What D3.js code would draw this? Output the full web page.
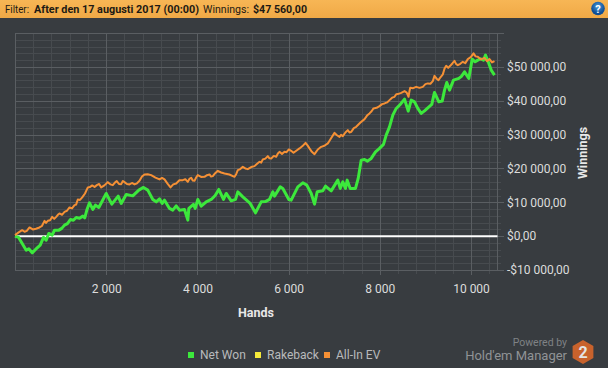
<!DOCTYPE html>
<html>
<head>
<meta charset="utf-8">
<script src="https://cdn.jsdelivr.net/npm/d3@7"></script>
<style>
  html, body { margin: 0; padding: 0; background: #383c40; overflow: hidden; }
  text { font-family: Roboto, sans-serif; }
</style>
</head>
<body>
<div id="chart"></div>
<script>
var netHands = [0,80,158,246,303,377,450,553,625,684,741,816,866,961,1025,1086,1150,1217,1280,1342,1415,1487,1530,1575,1634,1706,1765,1838,2000,2123,2263,2329,2439,2583,2715,2818,2912,3022,3097,3169,3228,3279,3388,3460,3535,3607,3717,3790,3812,3914,3952,4009,4083,4193,4303,4390,4469,4572,4632,4741,4836,4886,4996,5158,5274,5399,5490,5581,5654,5691,5816,5873,6005,6057,6202,6312,6399,6496,6568,6627,6750,6809,6934,7079,7132,7189,7248,7285,7351,7467,7526,7592,7665,7730,7811,7906,7993,8081,8140,8213,8285,8360,8447,8542,8623,8689,8761,8833,8908,8980,9053,9140,9199,9294,9368,9419,9469,9528,9616,9733,9790,9858,9952,10026,10090,10149,10210,10274,10318,10391,10443,10515];
var netWon = [0,-380,-2160,-4140,-3750,-4930,-3930,-2660,-380,-1180,800,300,1770,1770,2300,3250,3700,4930,4700,5520,5300,5910,5400,7680,9840,7890,9160,8480,12610,9450,11820,9660,12320,11900,13590,14390,13590,10840,10130,11020,9660,10630,8180,7680,8950,7680,7890,4730,8180,9360,8180,10840,8860,10130,10840,12000,13800,10840,12610,10430,10840,13090,11610,9660,6880,10130,10200,10840,13090,11820,14560,14090,10840,10630,14560,15750,15070,12610,9450,13090,13380,14770,13380,16540,14090,16040,14090,16540,14090,14090,17040,22450,22660,22150,22950,24900,25910,27090,29840,32290,35740,37720,38900,40470,36930,40170,39670,37720,36250,37000,37900,38900,42450,39670,39880,43130,45400,43130,46080,46580,47200,48530,46580,52290,51500,51990,52400,51990,53470,51020,49050,47560];

var evHands = [0,80,158,210,259,318,390,460,537,590,647,680,719,770,816,860,904,940,976,1030,1086,1140,1195,1250,1305,1340,1377,1425,1474,1535,1597,1640,1693,1745,1794,1845,1890,1960,2035,2090,2145,2190,2232,2280,2329,2365,2401,2455,2511,2565,2621,2675,2730,2785,2840,2910,2987,3080,3169,3225,3279,3345,3410,3470,3535,3605,3680,3735,3790,3830,3864,3900,3936,3975,4009,4080,4156,4210,4265,4300,4338,4390,4447,4520,4594,4700,4814,4850,4886,4940,4996,5050,5105,5180,5252,5310,5362,5400,5434,5490,5544,5580,5619,5675,5728,5765,5800,5855,5910,5955,6005,6055,6108,6175,6239,6305,6371,6415,6458,6510,6568,6640,6715,6785,6860,6935,7007,7060,7117,7150,7189,7245,7298,7335,7373,7430,7482,7570,7665,7720,7774,7820,7862,7930,7993,8050,8103,8160,8213,8270,8323,8360,8395,8470,8542,8590,8630,8650,8667,8730,8798,8870,8943,9000,9053,9110,9162,9199,9245,9287,9335,9382,9420,9456,9500,9544,9590,9638,9675,9711,9765,9820,9875,9930,9995,10055,10100,10149,10220,10296,10350,10406,10460,10515];
var allInEv = [300,1100,1770,1300,1570,2570,1980,2200,2570,3000,4520,3900,4520,4700,5700,5100,5700,6300,6710,6300,7180,7500,8480,8200,9160,9300,10840,10700,11430,12600,14390,14500,14980,14500,15070,15400,14390,15000,15950,15300,15070,15800,16250,15400,15360,16300,15950,15400,15270,15700,15270,15600,16340,17600,18230,18300,18020,17300,16750,17200,16750,15500,14390,15300,15570,16500,16540,16800,16040,17000,17220,16400,16340,17400,18020,17500,17520,18000,18230,17600,17720,18600,19290,18800,18520,18200,17520,18300,19500,19800,20470,20000,19790,20400,20680,21400,21950,21700,22660,22900,23630,23000,22950,23700,23430,24400,24900,24300,24900,24800,25610,25200,24610,25300,25910,26600,27560,26800,25910,24900,24220,25600,26380,26700,27380,29000,30510,29800,29330,29900,29540,30600,31310,30600,30810,31900,32290,33500,34560,35600,36250,36900,37720,37900,38400,39000,39200,39500,40170,40900,41150,41900,41950,42300,42830,42400,41150,42800,43810,43700,44100,43800,44100,44900,45110,45000,45790,47350,46500,46080,47000,47770,49500,50310,49700,50310,51000,51780,50800,50510,50900,51490,51100,52290,52900,53970,53100,52970,52200,52670,51700,52290,51300,51700];

var xTicks = [2000,4000,6000,8000,10000];
var xMinorTicks = [400,800,1200,1600,2400,2800,3200,3600,4400,4800,5200,5600,6400,6800,7200,7600,8400,8800,9200,9600,10400];
var yTicks = [-10000,0,10000,20000,30000,40000,50000,60000];
var yLabelled = [-10000,0,10000,20000,30000,40000,50000];
var yMinorTicks = [-8000,-6000,-4000,-2000,2000,4000,6000,8000,12000,14000,16000,18000,22000,24000,26000,28000,32000,34000,36000,38000,42000,44000,46000,48000,52000,54000,56000,58000];
var legendNames = ["Net Won","Rakeback","All-In EV"];
var legendColors = ["#3ce83c","#f6ea3a","#f59035"];

var margin = {top: 33, right: 111, bottom: 98, left: 15},
    width = 608 - margin.left - margin.right,
    height = 368 - margin.top - margin.bottom;

var svg = d3.select("#chart").append("svg")
    .attr("width", 608)
    .attr("height", 368)
    .style("display", "block");

// header bar
var defs = svg.append("defs");
var grad = defs.append("linearGradient").attr("id", "bar").attr("x1", 0).attr("x2", 0).attr("y1", 0).attr("y2", 1);
grad.append("stop").attr("offset", "0%").attr("stop-color", "#f7b655");
grad.append("stop").attr("offset", "100%").attr("stop-color", "#f0a946");
svg.append("rect").attr("width", 608).attr("height", 18).attr("fill", "url(#bar)");

function headerText(x, str, weight, len) {
  svg.append("text").attr("x", x).attr("y", 13)
    .attr("font-size", 11).attr("font-weight", weight).attr("fill", "#1d1a14")
    .attr("textLength", len).attr("lengthAdjust", "spacingAndGlyphs").text(str);
}
headerText(5, "Filter:", 400, 24);
headerText(34, "After den 17 augusti 2017 (00:00)", 700, 165);
headerText(203, "Winnings:", 400, 46);
headerText(253, "$47 560,00", 700, 54);

// help button
var icon = defs.append("radialGradient").attr("id", "help").attr("cy", "35%");
icon.append("stop").attr("offset", "0%").attr("stop-color", "#4d9bd8");
icon.append("stop").attr("offset", "100%").attr("stop-color", "#0f4f96");
svg.append("circle").attr("cx", 598).attr("cy", 8.5).attr("r", 6.8).attr("fill", "url(#help)");
svg.append("text").attr("x", 598).attr("y", 12.5).attr("text-anchor", "middle")
  .attr("font-size", 11).attr("font-weight", 700).attr("fill", "#fff").text("?");

var g = svg.append("g").attr("transform", "translate(" + margin.left + "," + margin.top + ")");

var x = d3.scaleLinear().domain([0, 10570]).range([0, width]);
var y = d3.scaleLinear().domain([-10000, 60000]).range([height, 0]);
// rounded copies so the grid stays crisp
var xGrid = x.copy().rangeRound([0, width]);
var yGrid = y.copy().rangeRound([height, 0]);

// grid, drawn as long axis ticks. minor first so the major ones sit on top
function styleGrid(sel, colour) {
  sel.select(".domain").remove();
  sel.selectAll("line").attr("stroke", colour).attr("stroke-width", 1);
  sel.selectAll("text").remove();
}
g.append("g").attr("transform", "translate(0," + (height + 4) + ")")
  .call(d3.axisBottom(xGrid).tickValues(xMinorTicks).tickSize(-(height + 4)).tickSizeOuter(0))
  .call(styleGrid, "#474b4f");
g.append("g").attr("transform", "translate(" + (width + 4) + ",0)")
  .call(d3.axisRight(yGrid).tickValues(yMinorTicks).tickSize(-(width + 4)).tickSizeOuter(0))
  .call(styleGrid, "#474b4f");
g.append("g").attr("transform", "translate(0," + (height + 5) + ")")
  .call(d3.axisBottom(xGrid).tickValues(xTicks).tickSize(-(height + 5)).tickSizeOuter(0))
  .call(styleGrid, "#5a5e62");
g.append("g").attr("transform", "translate(" + (width + 7) + ",0)")
  .call(d3.axisRight(yGrid).tickValues(yTicks).tickSize(-(width + 7)).tickSizeOuter(0))
  .call(styleGrid, "#5a5e62");
g.append("rect").attr("x", 0.5).attr("y", 0.5).attr("width", width).attr("height", height)
  .attr("fill", "none").attr("stroke", "#5a5e62");

// tick labels
var xAxis = g.append("g").attr("transform", "translate(0," + height + ")")
  .call(d3.axisBottom(x).tickValues(xTicks).tickSize(0).tickPadding(14)
    .tickFormat(function(d) { return d3.format(",")(d).replace(",", " "); }));
xAxis.select(".domain").remove();
var yAxis = g.append("g").attr("transform", "translate(" + width + ",0)")
  .call(d3.axisRight(y).tickValues(yLabelled).tickSize(0).tickPadding(10)
    .tickFormat(function(d) {
      var s = d3.format(",")(Math.abs(d)).replace(",", " ");
      return (d < 0 ? "-" : "") + "$" + s + ",00";
    }));
yAxis.select(".domain").remove();
g.selectAll("g.tick text")
  .attr("font-family", "Roboto, sans-serif")
  .attr("font-size", 12)
  .attr("fill", "#dcdcdc");

// axis titles
svg.append("text").attr("x", 256).attr("y", 317).attr("text-anchor", "middle")
  .attr("font-size", 12.5).attr("font-weight", 700).attr("fill", "#e8e8e8").text("Hands");
svg.append("text").attr("transform", "translate(587,153) rotate(-90)").attr("text-anchor", "middle")
  .attr("font-size", 12.5).attr("font-weight", 700).attr("fill", "#e8e8e8").text("Winnings");

// zero line
g.append("line").attr("x1", x(0)).attr("x2", width + 0.5).attr("y1", y(0)).attr("y2", y(0))
  .attr("stroke", "#fff").attr("stroke-width", 2);

// series
var line = d3.line()
  .x(function(d) { return x(d[0]); })
  .y(function(d) { return y(d[1]); });

g.append("path")
  .datum(d3.zip(netHands, netWon))
  .attr("d", line)
  .attr("fill", "none")
  .attr("stroke", legendColors[0])
  .attr("stroke-width", 3)
  .attr("stroke-linejoin", "round");

g.append("path")
  .datum(d3.zip(evHands, allInEv))
  .attr("d", line)
  .attr("fill", "none")
  .attr("stroke", legendColors[2])
  .attr("stroke-width", 2)
  .attr("stroke-linejoin", "round");

// legend
var legendX = [188, 255, 324];
svg.selectAll("rect.key").data(legendNames).enter().append("rect")
  .attr("class", "key")
  .attr("x", function(d, i) { return legendX[i]; })
  .attr("y", 352)
  .attr("width", 6).attr("height", 6)
  .attr("fill", function(d, i) { return legendColors[i]; });
svg.selectAll("text.key").data(legendNames).enter().append("text")
  .attr("class", "key")
  .attr("x", function(d, i) { return legendX[i] + 12; })
  .attr("y", 359)
  .attr("font-size", 12)
  .attr("fill", "#b8babc")
  .text(function(d) { return d; });

// logo
svg.append("text").attr("x", 567).attr("y", 346).attr("text-anchor", "end")
  .attr("font-size", 10.5).attr("fill", "#7f8285").text("Powered by");
svg.append("text").attr("x", 567).attr("y", 360).attr("text-anchor", "end")
  .attr("font-size", 13).attr("fill", "#909396").text("Hold'em Manager");
var hex = d3.range(6).map(function(i) {
  var a = Math.PI / 3 * i - Math.PI / 2;
  return [583 + 12 * Math.cos(a), 352 + 12 * Math.sin(a)];
});
svg.append("polygon").attr("points", hex.join(" ")).attr("fill", "#c8622c");
svg.append("text").attr("x", 583).attr("y", 358).attr("text-anchor", "middle")
  .attr("font-size", 16).attr("font-weight", 700).attr("fill", "#e4e4e4").text("2");
</script>
</body>
</html>
